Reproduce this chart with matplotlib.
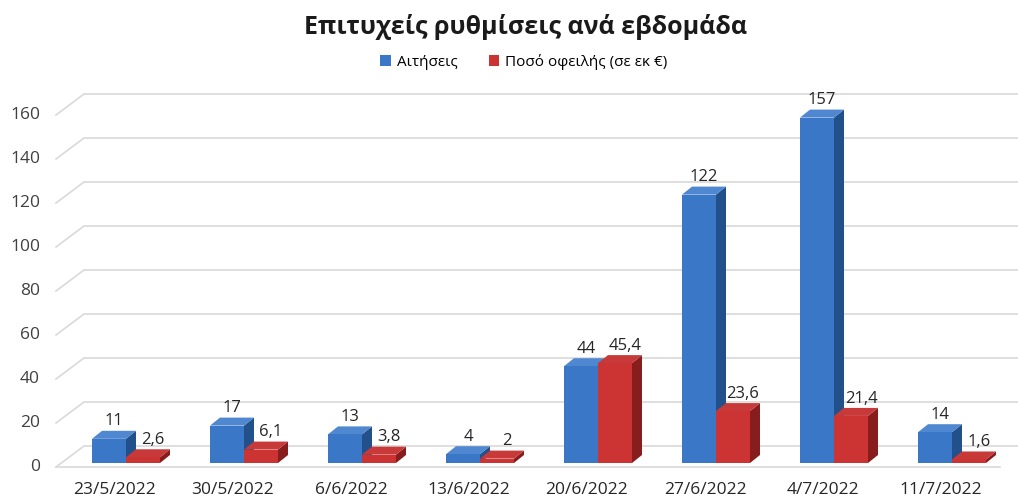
import matplotlib.pyplot as plt
from matplotlib.patches import Polygon, Rectangle

plt.rcParams['font.family'] = ['Open Sans', 'DejaVu Sans']

weeks = ['23/5/2022', '30/5/2022', '6/6/2022', '13/6/2022',
         '20/6/2022', '27/6/2022', '4/7/2022', '11/7/2022']
requests = [11, 17, 13, 4, 44, 122, 157, 14]
amounts = [2.6, 6.1, 3.8, 2, 45.4, 23.6, 21.4, 1.6]
y_ticks = [0, 20, 40, 60, 80, 100, 120, 140, 160]

title = 'Επιτυχείς ρυθμίσεις ανά εβδομάδα'
series_names = ['Αιτήσεις', 'Ποσό οφειλής (σε εκ €)']

blue = {'front': '#3a77c6', 'side': '#21508a', 'top': '#4f88d0'}
red = {'front': '#cc3434', 'side': '#871d1d', 'top': '#c83a3a'}

W, H = 1018, 499
fig = plt.figure(figsize=(W / 100, H / 100), dpi=100)
ax = fig.add_axes([56 / W, (H - 467) / H, 944 / W, 385 / H])
ax.set_xlim(-0.5, 7.5)
ax.set_ylim(0, 175)
ax.axis('off')

# pixel -> data helpers (used for the fake 3d look)
px_x = 944 / 8
px_y = 385 / 175
def dx(p):
    return p / px_x
def dy(p):
    return p / px_y

# back wall grid lines with slanted front part
for v in y_ticks:
    ax.plot([-0.5, -0.5 + dx(28), 7.5 + dx(18)], [v, v + dy(21), v + dy(21)],
            color='#d9d9d9', lw=1.2, clip_on=False, zorder=0)
    ax.text(-0.5 - dx(16), v, str(v), ha='right', va='center',
            fontsize=12.5, color='#404040')
# floor front edge
ax.plot([-0.5, 7.5], [0, 0], color='#d9d9d9', lw=1.2, clip_on=False, zorder=0)

bw = dx(34)
base = dy(4)
ddx, ddy = dx(10), dy(8)

def box(x0, h, c):
    ax.add_patch(Polygon([(x0 + bw, base), (x0 + bw + ddx, base + ddy),
                          (x0 + bw + ddx, base + h + ddy), (x0 + bw, base + h)],
                         facecolor=c['side'], edgecolor='none', zorder=2))
    ax.add_patch(Polygon([(x0, base + h), (x0 + ddx, base + h + ddy),
                          (x0 + bw + ddx, base + h + ddy), (x0 + bw, base + h)],
                         facecolor=c['top'], edgecolor='none', zorder=2))
    ax.add_patch(Rectangle((x0, base), bw, h, facecolor=c['front'],
                           edgecolor='none', zorder=2))

def fmt(v):
    return ('%g' % v).replace('.', ',')

for i in range(len(weeks)):
    xb = i + dx(-23)
    xr = xb + bw
    box(xb, requests[i], blue)
    box(xr, amounts[i], red)
    ax.annotate(fmt(requests[i]), (xb + bw / 2 + ddx / 2, base + requests[i] + ddy),
                xytext=(0, 1), textcoords='offset points', ha='center', va='bottom',
                fontsize=12, color='#262626', zorder=5)
    ax.annotate(fmt(amounts[i]), (xr + bw / 2 + ddx, base + amounts[i] + ddy),
                xytext=(0, 1), textcoords='offset points', ha='center', va='bottom',
                fontsize=12, color='#262626', zorder=5)
    ax.text(i, -dy(23), weeks[i], ha='center', va='center', fontsize=12.5, color='#262626')

fig.text(525 / W, 1 - 27 / H, title, ha='center', va='center', fontsize=18,
         fontweight='bold', color='#1a1a1a')

# legend
handles = [Rectangle((0, 0), 1, 1, facecolor=blue['front']),
           Rectangle((0, 0), 1, 1, facecolor=red['front'])]
fig.legend(handles, series_names, loc='center', bbox_to_anchor=(524 / W, 1 - 62 / H),
           ncol=2, frameon=False, fontsize=11, handlelength=0.7, handleheight=0.7,
           handletextpad=0.4, columnspacing=2.0)

fig.savefig('out.png', dpi=100)
